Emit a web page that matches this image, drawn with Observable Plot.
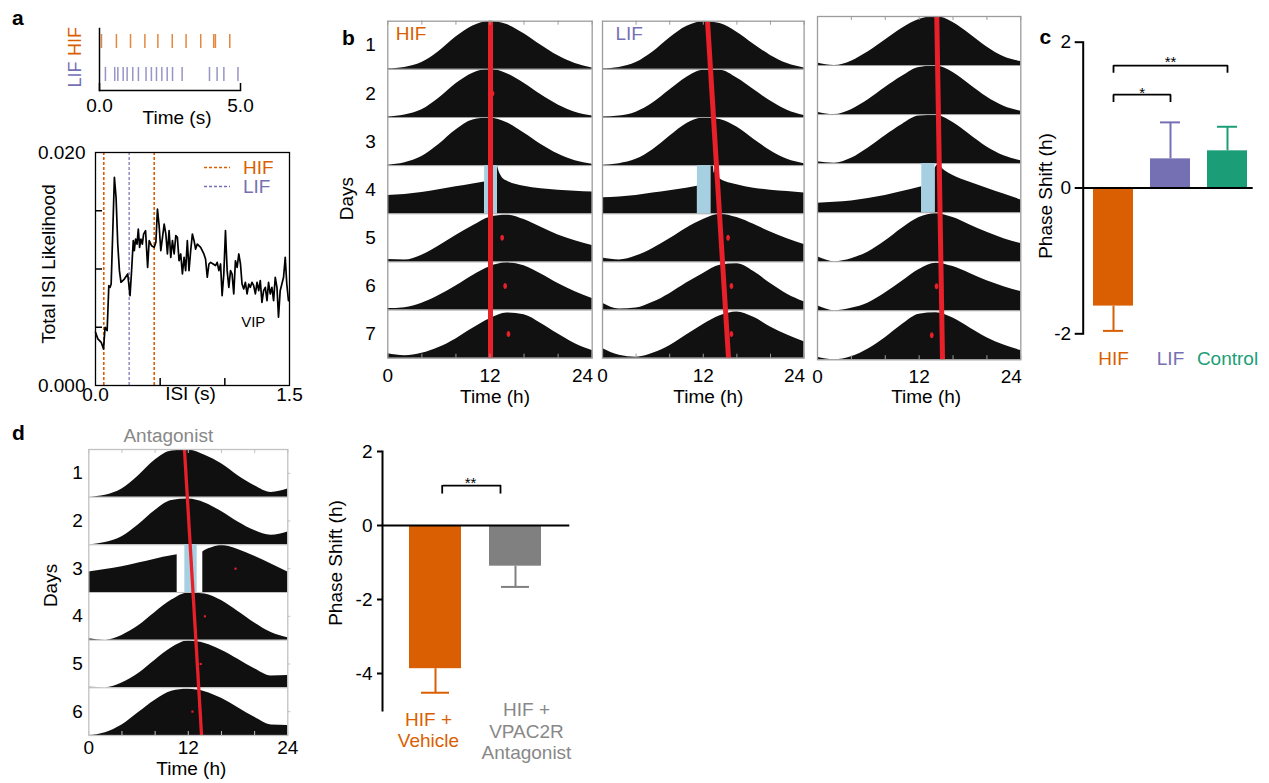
<!DOCTYPE html>
<html>
<head>
<meta charset="utf-8">
<script src="https://cdn.jsdelivr.net/npm/d3@7"></script>
<script src="https://cdn.jsdelivr.net/npm/@observablehq/plot@0.6"></script>
<style>
  body { margin: 0; background: #fff; font-family: "Liberation Sans", Arial, Helvetica, sans-serif; }
  #fig { position: relative; width: 1269px; height: 783px; overflow: hidden; background: #fff; }
  .letter { position: absolute; font-weight: bold; font-size: 21px; line-height: 21px; }
  .legend-row { position: absolute; display: flex; align-items: center; font-size: 19px; line-height: 19px; }
</style>
</head>
<body>
<div id="fig"></div>
<script>
// ---------- colours ----------
const ORANGE = "#d95f02", PURPLE = "#7570b3", GREEN = "#1b9e77", RED = "#e8202a", PULSE = "#a6d0e2";

// ---------- a: spike raster (s) ----------
const cells = ["HIF", "LIF"];
const hifSpikes = [0.07, 0.60, 1.10, 1.61, 2.07, 2.58, 3.07, 3.59, 4.05, 4.11, 4.62];
const lifSpikes = [0.21, 0.54, 0.65, 0.84, 0.98, 1.18, 1.38, 1.65, 1.84, 2.02, 2.21, 2.40, 2.59, 2.93, 3.90, 4.17, 4.41, 4.91];

// ---------- a: ISI likelihood ----------
const isiTime = [0,0.018,0.044,0.062,0.074,0.090,0.103,0.113,0.121,0.133,
  0.146,0.159,0.172,0.185,0.197,0.223,0.249,0.267,0.279,0.292,
  0.300,0.310,0.321,0.331,0.341,0.351,0.362,0.372,0.387,0.403,
  0.415,0.433,0.454,0.467,0.479,0.492,0.505,0.518,0.531,0.544,
  0.556,0.569,0.582,0.595,0.608,0.621,0.633,0.646,0.659,0.672,
  0.685,0.697,0.710,0.723,0.736,0.749,0.762,0.774,0.787,0.813,
  0.838,0.851,0.864,0.877,0.890,0.910,0.928,0.941,0.954,0.967,
  0.979,0.992,1.005,1.018,1.031,1.044,1.056,1.069,1.082,1.095,
  1.108,1.121,1.133,1.146,1.159,1.172,1.185,1.197,1.210,1.223,
  1.236,1.249,1.262,1.274,1.287,1.300,1.313,1.326,1.338,1.351,
  1.364,1.377,1.390,1.403,1.415,1.428,1.441,1.454,1.467,1.479,1.492];
const isiLikelihood = [0.00457,0.0040,0.00371,0.00314,0.0050,0.00471,0.00857,0.00843,0.00871,0.0130,
  0.01786,0.01614,0.01214,0.00986,0.00886,0.00914,0.00957,0.00771,0.00986,0.01243,
  0.01157,0.01257,0.01214,0.01343,0.01186,0.01257,0.01214,0.0130,0.01329,0.01014,
  0.01243,0.0120,0.01186,0.01229,0.01514,0.01371,0.01157,0.01271,0.01386,0.0130,
  0.01129,0.01329,0.011,0.01243,0.01129,0.01286,0.01271,0.01071,0.01129,0.00957,
  0.011,0.00986,0.01243,0.00986,0.01157,0.0130,0.01243,0.01171,0.01214,0.01186,
  0.01129,0.01086,0.00929,0.01043,0.01057,0.01043,0.01029,0.01057,0.00986,0.01043,
  0.00771,0.00957,0.01329,0.00986,0.00843,0.00986,0.00957,0.00786,0.01071,0.01014,
  0.01129,0.01043,0.00871,0.00829,0.00886,0.00786,0.00871,0.00843,0.00886,0.00857,
  0.00786,0.00886,0.00814,0.009,0.00714,0.00814,0.00843,0.00729,0.00886,0.00786,
  0.00843,0.00729,0.00929,0.00843,0.00586,0.00814,0.00871,0.00929,0.011,0.00871,0.00729];
const hifIsi = [0.064, 0.454];
const lifIsi = [0.26];

// ---------- b, d: actograms (normalised level per row, sampled every 2 h) ----------
const hours = [0, 2, 4, 6, 8, 10, 12, 14, 16, 18, 20, 22, 24];
const hourTicks = [0, 4, 8, 12, 16, 20, 24];
const dayLabels = ["1", "2", "3", "4", "5", "6", "7"];

const hifDays = [
  [0.01,0.04,0.14,0.37,0.67,0.90,1.00,0.93,0.74,0.50,0.28,0.12,0.03],
  [0.01,0.05,0.16,0.40,0.70,0.92,1.00,0.91,0.71,0.47,0.26,0.11,0.03],
  [0.01,0.06,0.19,0.44,0.74,0.95,0.99,0.89,0.68,0.44,0.24,0.10,0.03],
  null,
  [0.05,0.04,0.14,0.33,0.55,0.75,0.93,0.97,0.88,0.72,0.56,0.44,0.34],
  [0.03,0.05,0.14,0.30,0.50,0.72,0.90,0.98,0.92,0.75,0.55,0.38,0.24],
  [0.09,0.05,0.10,0.22,0.40,0.62,0.82,0.94,0.90,0.72,0.50,0.30,0.16]];
const hifPulse = {day: 4, start: 11.37, end: 12.86,
  preT: [0,2,4,6,8,10,11.37], preV: [0.38,0.40,0.44,0.50,0.56,0.62,0.66],
  postT: [12.86,13.1,13.4,14,16,18,20,22,24], postV: [1.00,0.86,0.76,0.68,0.57,0.52,0.49,0.47,0.45]};
const hifPhase = [12.06, 12.06];
const hifDots = [{day: 2, t: 12.3}, {day: 5, t: 13.43}, {day: 6, t: 13.78}, {day: 7, t: 14.17}];

const lifDays = [
  [0.01,0.04,0.14,0.36,0.65,0.89,0.99,0.95,0.77,0.52,0.29,0.12,0.03],
  [0.01,0.03,0.11,0.30,0.57,0.83,0.98,0.98,0.82,0.58,0.34,0.15,0.04],
  [0.01,0.04,0.13,0.33,0.61,0.87,0.99,0.96,0.80,0.55,0.31,0.13,0.04],
  null,
  [0.08,0.04,0.12,0.28,0.48,0.70,0.88,0.99,0.92,0.78,0.62,0.48,0.36],
  [0.14,0.02,0.04,0.16,0.34,0.56,0.76,0.93,0.96,0.80,0.55,0.33,0.17],
  [0.20,0.06,0.02,0.10,0.26,0.48,0.70,0.88,0.96,0.85,0.65,0.48,0.34]];
const lifPulse = {day: 4, start: 11.3, end: 12.9,
  preT: [0,2,4,6,8,10,11.3], preV: [0.33,0.35,0.38,0.43,0.48,0.53,0.57],
  postT: [12.9,13.2,13.3,13.5,14,16,18,20,22,24], postV: [1.00,1.00,0.84,0.97,0.72,0.60,0.53,0.49,0.46,0.43]};
const lifPhase = [12.5, 15.0];
const lifDots = [{day: 5, t: 14.95}, {day: 6, t: 15.35}, {day: 7, t: 15.35}];

const ctrlDays = [
  [0.05,0.00,0.09,0.28,0.52,0.76,0.94,1.00,0.88,0.64,0.38,0.18,0.08],
  [0.05,0.00,0.10,0.30,0.55,0.78,0.96,0.99,0.86,0.61,0.36,0.17,0.07],
  [0.04,0.01,0.11,0.32,0.57,0.80,0.97,0.98,0.84,0.59,0.34,0.16,0.06],
  null,
  [0.10,0.00,0.06,0.20,0.42,0.68,0.90,0.98,0.90,0.75,0.60,0.47,0.37],
  [0.10,0.00,0.05,0.16,0.36,0.60,0.84,0.97,0.90,0.76,0.61,0.49,0.39],
  [0.05,0.00,0.06,0.22,0.45,0.72,0.93,0.96,0.85,0.65,0.45,0.30,0.19]];
const ctrlPulse = {day: 4, start: 12.31, end: 13.88,
  preT: [0,2,4,6,8,10,12.31], preV: [0.19,0.21,0.24,0.29,0.35,0.43,0.53],
  postT: [13.88,14.2,15,16,18,20,22,24], postV: [0.90,0.97,0.86,0.76,0.62,0.50,0.38,0.26]};
const ctrlPhase = [14.08, 14.76];
const ctrlDots = [{day: 6, t: 14.05}, {day: 7, t: 13.49}];

const antDays = [
  [0.00,0.04,0.17,0.45,0.78,0.97,0.99,0.88,0.70,0.45,0.24,0.10,0.17],
  [0.00,0.05,0.17,0.42,0.72,0.93,0.96,0.88,0.70,0.48,0.30,0.20,0.27],
  null,
  [0.03,0.00,0.10,0.30,0.58,0.84,0.99,0.97,0.83,0.60,0.36,0.16,0.05],
  [0.01,0.00,0.10,0.30,0.58,0.84,0.98,0.93,0.79,0.60,0.40,0.25,0.26],
  [0.00,0.06,0.22,0.48,0.74,0.93,0.97,0.92,0.78,0.58,0.38,0.22,0.21]];
const antPulse = {day: 3, start: 11.58, end: 13.07,
  preT: [0,2,4,6,8,10,10.66], preV: [0.43,0.48,0.54,0.62,0.70,0.77,0.79],
  postT: [13.75,14,15,16,18,20,22,24], postV: [0.85,0.88,0.95,0.99,0.90,0.76,0.60,0.43]};
const antPhase = [11.54, 13.6];
const antDots = [{day: 3, t: 17.7}, {day: 4, t: 14.0}, {day: 5, t: 13.5}, {day: 6, t: 12.5}];

// ---------- c: phase shifts (h), mean and SEM ----------
const cCats = ["HIF", "LIF", "Control"];
const cMeans = [-1.62, 0.40, 0.51];
const cSem = [0.34, 0.50, 0.33];
const cColors = [ORANGE, PURPLE, GREEN];

// ---------- d: phase shifts (h), mean and SEM ----------
const dCats = ["HIF + Vehicle", "HIF + VPAC2R Antagonist"];
const dMeans = [-3.87, -1.10];
const dSem = [0.65, 0.56];
const dColors = [ORANGE, "#808080"];

// ---------- helpers ----------
const fig = document.getElementById("fig");
const FONT = "'Liberation Sans', Arial, Helvetica, sans-serif";
const baseStyle = {background: "none", overflow: "visible", fontFamily: FONT, fontSize: "19px", color: "#000"};

function place(node, left, top) {
  node.style.position = "absolute";
  node.style.left = left + "px";
  node.style.top = top + "px";
  fig.appendChild(node);
}

// tall ellipse used for the phase markers
const ellipse = {
  draw(ctx, size) {
    const r = Math.sqrt(size / Math.PI), ry = r * 1.2, rx = r * 0.74, k = 0.5523;
    ctx.moveTo(rx, 0);
    ctx.bezierCurveTo(rx, ry * k, rx * k, ry, 0, ry);
    ctx.bezierCurveTo(-rx * k, ry, -rx, ry * k, -rx, 0);
    ctx.bezierCurveTo(-rx, -ry * k, -rx * k, -ry, 0, -ry);
    ctx.bezierCurveTo(rx * k, -ry, rx, -ry * k, rx, 0);
    ctx.closePath();
  }
};

const errEnd = (d) => d.mean + Math.sign(d.mean) * d.sem;
// a centred, rotated axis title placed left of the frame
const yTitle = (label, dx, dy) =>
  Plot.text([label], {text: (d) => d, frameAnchor: "left", textAnchor: "middle", lineAnchor: "middle", rotate: -90, dx, dy});
// a centred title placed below the frame
const xTitle = (label, dx, dy) =>
  Plot.text([label], {text: (d) => d, frameAnchor: "bottom", textAnchor: "middle", lineAnchor: "middle", dx, dy});

function actogram(o) {
  const {days, pulse, phase, dots, left, top, mL, mT, W, H, mR = 6, mB = 50,
         frame = "#9c9c9c", fill = "#111", lineW = 5, dotR = 2.5, dotSymbol = ellipse,
         tickPad = 10, endAnchor = true, extra = [], yAxis = false} = o;
  const rows = days.length;
  const pts = [];
  days.forEach((vals, i) => {
    if (vals) vals.forEach((v, j) => pts.push({seg: "day" + (i + 1), day: i + 1, t: hours[j], v}));
  });
  pulse.preT.forEach((t, j) => pts.push({seg: "pre", day: pulse.day, t, v: pulse.preV[j]}));
  pulse.postT.forEach((t, j) => pts.push({seg: "post", day: pulse.day, t, v: pulse.postV[j]}));
  const phasePts = [{t: phase[0], row: 0}, {t: phase[1], row: rows}];
  const xAxes = endAnchor
    ? [Plot.axisX([0, 12], {tickSize: 0, tickPadding: tickPad, label: null}),
       Plot.axisX([24], {tickSize: 0, tickPadding: tickPad, textAnchor: "end", dx: 1, label: null})]
    : [Plot.axisX([0, 12, 24], {tickSize: 0, tickPadding: tickPad, label: null})];
  const plot = Plot.plot({
    width: mL + W + mR, height: mT + H + mB,
    marginLeft: mL, marginRight: mR, marginTop: mT, marginBottom: mB,
    style: baseStyle,
    x: {domain: [0, 24]},
    y: yAxis ? {domain: [0, rows], reverse: true} : {domain: [0, rows], reverse: true, axis: null},
    marks: [
      Plot.areaY(pts, {x: "t", y1: "day", y2: (d) => d.day - d.v, z: "seg", fill, curve: "monotone-x"}),
      Plot.ruleY(d3.range(1, rows), {y: (d) => d, stroke: frame, strokeWidth: 1}),
      Plot.rect([pulse], {x1: "start", x2: "end", y1: (d) => d.day - 1, y2: "day", fill: PULSE}),
      Plot.dot(dots, {x: "t", y: (d) => d.day - 0.5, r: dotR, fill: RED, symbol: dotSymbol}),
      Plot.line(phasePts, {x: "t", y: "row", stroke: RED, strokeWidth: lineW, strokeLinecap: "butt"}),
      Plot.frame({stroke: frame, strokeWidth: 1.3}),
      Plot.tickX(hourTicks, {x: (d) => d, insetTop: H - 4, stroke: frame}),
      Plot.tickX(hourTicks, {x: (d) => d, insetBottom: H - 4, stroke: frame}),
      ...xAxes,
      ...extra
    ]
  });
  place(plot, left, top);
}

// ---------- a: raster ----------
const spikes = [...hifSpikes.map((t) => ({t, cell: "HIF"})), ...lifSpikes.map((t) => ({t, cell: "LIF"}))];
place(Plot.plot({
  width: 260, height: 130, marginLeft: 99, marginRight: 20, marginTop: 28, marginBottom: 40,
  style: baseStyle,
  x: {domain: [0, 5]},
  y: {type: "band", domain: cells, range: [28, 86], paddingInner: 0.588, paddingOuter: 0.147, axis: null},
  color: {domain: cells, range: [ORANGE, PURPLE]},
  marks: [
    Plot.tickX(spikes, {x: "t", y: "cell", stroke: "cell", strokeWidth: 1.5, strokeOpacity: 0.75}),
    Plot.frame({anchor: "left", strokeWidth: 1.5}),
    Plot.frame({anchor: "bottom", strokeWidth: 1.5}),
    Plot.tickX([0, 5], {x: (d) => d, insetTop: 62 - 7, strokeWidth: 1.5}),
    Plot.axisX([0, 5], {tickSize: 0, tickPadding: 8, tickFormat: d3.format(".1f"), label: null}),
    xTitle("Time (s)", 7, 27),
    Plot.text(cells, {text: (d) => d, y: (d) => d, frameAnchor: "left", textAnchor: "middle", lineAnchor: "middle",
                      dx: -24, rotate: -90, fill: (d) => d, fontSize: 18})
  ]
}), 0, 0);

// ---------- a: ISI likelihood ----------
const isiPts = isiTime.map((t, i) => ({t, p: isiLikelihood[i]}));
place(Plot.plot({
  width: 300, height: 285, marginLeft: 95, marginRight: 11, marginTop: 22, marginBottom: 30,
  style: baseStyle,
  x: {domain: [0, 1.5]},
  y: {domain: [0, 0.02]},
  marks: [
    Plot.ruleX(hifIsi, {x: (d) => d, stroke: ORANGE, strokeWidth: 1.6, strokeDasharray: "3,2"}),
    Plot.ruleX(lifIsi, {x: (d) => d, stroke: PURPLE, strokeWidth: 1.2, strokeDasharray: "3,2"}),
    Plot.line(isiPts, {x: "t", y: "p", stroke: "#000", strokeWidth: 1.7}),
    Plot.frame({stroke: "#000", strokeWidth: 1.3}),
    Plot.tickY([0.005, 0.01, 0.015], {y: (d) => d, insetRight: 194 - 7, strokeWidth: 1.5}),
    Plot.tickX([0.5, 1.0], {x: (d) => d, insetTop: 233 - 7, strokeWidth: 1.5}),
    Plot.axisY([0, 0.02], {tickSize: 0, tickPadding: 10, tickFormat: d3.format(".3f"), label: null}),
    Plot.axisX([0, 1.5], {tickSize: 0, tickPadding: 2, tickFormat: d3.format(".1f"), label: null}),
    xTitle("ISI (s)", -2, 8),
    yTitle("Total ISI Likelihood", -47, -5),
    Plot.text(["VIP"], {text: (d) => d, x: 1.22, y: 0.0054, fontSize: 15})
  ]
}), 0, 130);

// ISI legend
[{label: "HIF", color: ORANGE, y: 167.3}, {label: "LIF", color: PURPLE, y: 186.7}].forEach(({label, color, y}) => {
  const row = document.createElement("div");
  row.className = "legend-row";
  row.style.left = "204px";
  row.style.top = (y - 9.5) + "px";
  row.innerHTML = `<svg width="26" height="19" style="margin-right:13px"><line x1="0" y1="9.5" x2="26" y2="9.5" stroke="${color}" stroke-width="1.6" stroke-dasharray="3,2"/></svg><span style="color:${color}">${label}</span>`;
  fig.appendChild(row);
});

// ---------- b: actograms ----------
const B_DAYS = d3.range(7).map((i) => i + 0.5);
const cornerLabel = (label, color, dx) =>
  Plot.text([label], {text: (d) => d, frameAnchor: "top-left", textAnchor: "start", lineAnchor: "middle", dx, dy: 12.5, fill: color});
actogram({
  days: hifDays, pulse: hifPulse, phase: hifPhase, dots: hifDots,
  left: 335, top: 0, mL: 52.3, mT: 20.7, W: 204.4, H: 337, yAxis: true,
  extra: [
    Plot.axisY(B_DAYS, {tickSize: 0, tickPadding: 12, tickFormat: (d) => dayLabels[Math.floor(d)], label: null}),
    yTitle("Days", -40.5, 9),
    cornerLabel("HIF", ORANGE, 8),
    xTitle("Time (h)", 5, 38.5)
  ]
});
actogram({
  days: lifDays, pulse: lifPulse, phase: lifPhase, dots: lifDots,
  left: 596.7, top: 0, mL: 5, mT: 20.7, W: 201.6, H: 337,
  extra: [
    cornerLabel("LIF", PURPLE, 13),
    xTitle("Time (h)", 5, 38.5)
  ]
});
actogram({
  days: ctrlDays, pulse: ctrlPulse, phase: ctrlPhase, dots: ctrlDots,
  left: 811.7, top: 0, mL: 5, mT: 16, W: 203.3, H: 343.3,
  extra: [
    xTitle("Time (h)", 7, 37)
  ]
});

// ---------- c: phase shift bars ----------
const cData = cCats.map((cat, i) => ({cat, mean: cMeans[i], sem: cSem[i]}));
const cBrackets = [{id: 1, a: "HIF", b: "LIF", y: 1.28}, {id: 2, a: "HIF", b: "Control", y: 1.68}];
const cBracketPts = cBrackets.flatMap(({id, a, b, y}) => [
  {id, x: a, y: y - 0.1}, {id, x: a, y}, {id, x: b, y}, {id, x: b, y: y - 0.1}]);
place(Plot.plot({
  width: 239, height: 384, marginLeft: 52.7, marginRight: 16.3, marginTop: 41.7, marginBottom: 50.7,
  style: baseStyle,
  x: {type: "band", domain: cCats, range: [55.1, 225.1], paddingInner: 0.3, paddingOuter: 0.133, axis: null},
  y: {domain: [-2, 2]},
  color: {domain: cCats, range: cColors},
  marks: [
    Plot.barY(cData, {x: "cat", y: "mean", fill: "cat"}),
    Plot.ruleX(cData, {x: "cat", y1: "mean", y2: errEnd, stroke: "cat", strokeWidth: 2}),
    Plot.tickY(cData, {x: "cat", y: errEnd, stroke: "cat", strokeWidth: 2, insetLeft: 10, insetRight: 10}),
    Plot.ruleY([0], {y: (d) => d, strokeWidth: 2}),
    Plot.frame({anchor: "left", strokeWidth: 2}),
    Plot.axisY([-2, 0, 2], {tickSize: 8, tickPadding: 4, strokeWidth: 2, tickFormat: (d) => String(d), label: null}),
    Plot.line(cBracketPts, {x: "x", y: "y", z: "id", stroke: "#000", strokeWidth: 1.8, strokeLinejoin: "miter", strokeLinecap: "butt"}),
    Plot.text(["*"], {text: (d) => d, x: () => "HIF", y: () => 1.28, dx: 28.6, dy: -2, fontSize: 15}),
    Plot.text(["**"], {text: (d) => d, x: () => "LIF", y: () => 1.68, dy: -3, fontSize: 15}),
    Plot.text(cCats, {text: (d) => d, x: (d) => d, frameAnchor: "bottom", lineAnchor: "middle", dy: 25, fill: (d) => d}),
    yTitle("Phase Shift (h)", -37.7, 8)
  ]
}), 1030, 0);

// ---------- d: antagonist actogram ----------
const D_DAYS = d3.range(6).map((i) => i + 0.5);
actogram({
  days: antDays, pulse: antPulse, phase: antPhase, dots: antDots,
  left: 0, top: 420, mL: 88.3, mT: 29, W: 199, H: 286, mR: 12, mB: 48,
  frame: "#c2c2c2", fill: "#101010", lineW: 3.3, dotR: 1.2, dotSymbol: "square",
  tickPad: 5, endAnchor: false, yAxis: true,
  extra: [
    Plot.axisY(D_DAYS, {tickSize: 0, tickPadding: 6, tickFormat: (d) => dayLabels[Math.floor(d)], label: null}),
    Plot.tickY(D_DAYS, {y: (d) => d, insetLeft: 199 - 3, dx: 3, stroke: "#c2c2c2"}),
    yTitle("Days", -37.8, -7),
    Plot.text(["Antagonist"], {text: (d) => d, frameAnchor: "top", textAnchor: "middle", lineAnchor: "middle", dx: -20, dy: -14, fill: "#888"}),
    xTitle("Time (h)", 3, 33.5)
  ]
});

// ---------- d: phase shift bars ----------
const dData = dCats.map((cat, i) => ({cat, mean: dMeans[i], sem: dSem[i]}));
place(Plot.plot({
  width: 290, height: 339, marginLeft: 82, marginRight: 20.7, marginTop: 20, marginBottom: 60,
  style: baseStyle,
  x: {type: "band", domain: dCats, paddingInner: 0.345, paddingOuter: 0.34, axis: null},
  y: {domain: [-5, 2]},
  color: {domain: dCats, range: dColors},
  marks: [
    Plot.barY(dData, {x: "cat", y: "mean", fill: "cat"}),
    Plot.ruleX(dData, {x: "cat", y1: "mean", y2: errEnd, stroke: "cat", strokeWidth: 2}),
    Plot.tickY(dData, {x: "cat", y: errEnd, stroke: "cat", strokeWidth: 2, insetLeft: 12, insetRight: 12}),
    Plot.ruleY([0], {y: (d) => d, strokeWidth: 2}),
    Plot.frame({anchor: "left", strokeWidth: 2}),
    Plot.axisY([-4, -2, 0, 2], {tickSize: 5, tickPadding: 5, strokeWidth: 2, tickFormat: (d) => String(d), label: null}),
    Plot.ruleY([1.08], {y: (d) => d, insetLeft: 60.7, insetRight: 68.3, strokeWidth: 1.8}),
    Plot.ruleX([dCats[0]], {x: (d) => d, y1: 0.85, y2: 1.08, dx: 6.7, strokeWidth: 1.8}),
    Plot.ruleX([dCats[1]], {x: (d) => d, y1: 0.85, y2: 1.08, dx: -15, strokeWidth: 1.8}),
    Plot.text(["**"], {text: (d) => d, x: () => dCats[0], y: () => 1.08, dx: 35, dy: -2, fontSize: 15}),
    Plot.text(["HIF +\nVehicle"], {text: (d) => d, x: () => dCats[0], frameAnchor: "bottom", lineAnchor: "top", lineHeight: 1.12, dx: -7, dy: 0, fill: ORANGE}),
    Plot.text(["HIF +\nVPAC2R\nAntagonist"], {text: (d) => d, x: () => dCats[1], frameAnchor: "bottom", lineAnchor: "top", lineHeight: 1.14, dx: 11, dy: -10, fill: "#888"}),
    yTitle("Phase Shift (h)", -47, -18)
  ]
}), 300, 431);

// ---------- panel letters ----------
[["a", 12, 7], ["b", 342, 26.5], ["c", 1039.5, 25.5], ["d", 12, 422]].forEach(([t, x, y]) => {
  const el = document.createElement("div");
  el.className = "letter";
  el.textContent = t;
  el.style.left = x + "px";
  el.style.top = y + "px";
  fig.appendChild(el);
});
</script>
</body>
</html>
